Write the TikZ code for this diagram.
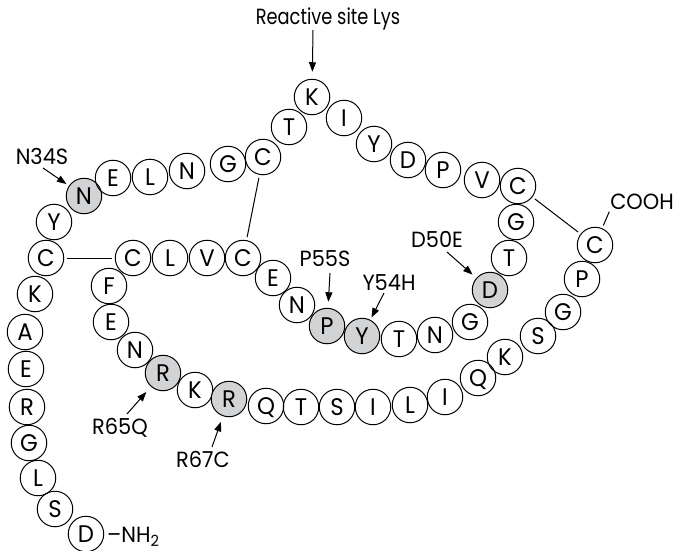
\documentclass[tikz,border=0pt]{standalone}
\usepackage{fontspec}
\setmainfont{Poppins}[FakeStretch=0.95]
\newfontfamily\narrowpoppins{Poppins}[FakeStretch=0.81]
\usetikzlibrary{arrows.meta}
\definecolor{mutgray}{RGB}{210,211,213}

\begin{document}
\begin{tikzpicture}[x=1pt,y=-1pt,
  res/.style={circle,draw,line width=1pt,minimum size=35.5pt,inner sep=0pt,
    font=\fontsize{24}{24}\selectfont,text height=16.6pt,text depth=0pt},
  mut/.style={res,fill=mutgray},
  lbl/.style={font=\fontsize{22}{22}\selectfont,inner sep=0pt,text height=15.2pt,text depth=0pt},
  ss/.style={line width=1pt,shorten <=3pt,shorten >=3pt},
  arr/.style={line width=1pt,-{Triangle[length=9.5pt,width=7pt]}}]
\useasboundingbox (0,0) rectangle (677,551);

% N-terminal strand, running up the left side
\node[res] (d1)  at (86,534)  {D};
\node[res] (s2)  at (55,509)  {S};
\node[res] (l3)  at (38,478)  {L};
\node[res] (g4)  at (29,443)  {G};
\node[res] (r5)  at (27,407)  {R};
\node[res] (e6)  at (26,369)  {E};
\node[res] (a7)  at (25,332)  {A};
\node[res] (k8)  at (35,294)  {K};
\node[res] (c9)  at (46,258)  {C};
\node[res] (y10) at (54,222)  {Y};
\node[mut] (n11) at (84,196)  {N};
\node[res] (e12) at (113,178) {E};
\node[res] (l13) at (150,177) {L};
\node[res] (n14) at (187,171) {N};
\node[res] (g15) at (228,164) {G};
\node[res] (c16) at (263,157) {C};
% reactive-site loop
\node[res] (t17) at (289,127) {T};
\node[res] (k18) at (312,97)  {K};
\node[res] (i19) at (344,118) {I};
\node[res] (y20) at (374,144) {Y};
\node[res] (d21) at (408,160) {D};
\node[res] (p22) at (443,170) {P};
\node[res] (v23) at (482,180) {V};
\node[res] (c24) at (518,186) {C};
\node[res] (g25) at (516,222) {G};
\node[res] (t26) at (509,258) {T};
\node[mut] (d27) at (490,290) {D};
\node[res] (g28) at (470,322) {G};
\node[res] (n29) at (435,335) {N};
\node[res] (t30) at (399,339) {T};
\node[mut] (y31) at (362,336) {Y};
\node[mut] (p32) at (327,326) {P};
\node[res] (n33) at (297,305) {N};
\node[res] (e34) at (273,278) {E};
\node[res] (c35) at (243,258) {C};
\node[res] (v36) at (207,258) {V};
\node[res] (l37) at (170,258) {L};
\node[res] (c38) at (133,258) {C};
% lower strand towards the C terminus
\node[res] (f39) at (109,286) {F};
\node[res] (e40) at (111,322) {E};
\node[res] (n41) at (135,350) {N};
\node[mut] (r42) at (163,373) {R};
\node[res] (k43) at (195,390) {K};
\node[mut] (r44) at (229,399) {R};
\node[res] (q45) at (266,406) {Q};
\node[res] (t46) at (301,407) {T};
\node[res] (s47) at (337,407) {S};
\node[res] (i48) at (373,407) {I};
\node[res] (l49) at (410,405) {L};
\node[res] (i50) at (445,397) {I};
\node[res] (q51) at (478,378) {Q};
\node[res] (k52) at (505,357) {K};
\node[res] (s53) at (538,336) {S};
\node[res] (g54) at (563,312) {G};
\node[res] (p55) at (582,279) {P};
\node[res] (c56) at (595,245) {C};

% disulfide bridges
\draw[ss] (c9) -- (c38);
\draw[ss] (c16) -- (c35);
\draw[ss] (c24) -- (c56);

% termini
\node[lbl,anchor=west] (nh2) at (107,535) {–NH\textsubscript{2}};
\node[lbl] (cooh) at (642,202) {COOH};
\draw[line width=1pt,shorten <=3pt,shorten >=2pt] (c56) -- (cooh.south west);

% reactive site and mutation labels
\node[lbl,font=\fontsize{22}{22}\narrowpoppins] (rsl) at (328,17) {Reactive site Lys};
\node[lbl] (n34s) at (42,157)  {N34S};
\node[lbl] (p55s) at (325,259) {P55S};
\node[lbl] (y54h) at (389,283) {Y54H};
\node[lbl] (d50e) at (437,240) {D50E};
\node[lbl] (r65q) at (120,427) {R65Q};
\node[lbl] (r67c) at (203,460) {R67C};

\coordinate (rsl-t)  at (313,30);
\coordinate (n34s-t) at (43,168);
\coordinate (p55s-t) at (330,273);
\coordinate (y54h-t) at (384,293);
\coordinate (d50e-t) at (447,252);
\coordinate (r65q-t) at (127,414);
\coordinate (r67c-t) at (212,447);

\draw[arr,shorten >=7pt]   (rsl-t)  -- (k18);
\draw[arr,shorten >=3pt]   (n34s-t) -- (n11);
\draw[arr,shorten >=6pt]   (p55s-t) -- (p32);
\draw[arr,shorten >=2.5pt] (y54h-t) -- (y31);
\draw[arr,shorten >=5pt]   (d50e-t) -- (d27);
\draw[arr,shorten >=7pt]   (r65q-t) -- (r42);
\draw[arr,shorten >=6pt]   (r67c-t) -- (r44);
\end{tikzpicture}
\end{document}
